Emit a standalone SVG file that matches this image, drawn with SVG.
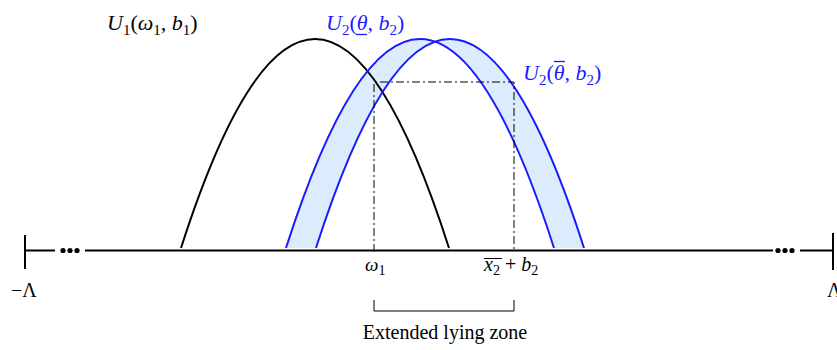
<svg xmlns="http://www.w3.org/2000/svg" width="837" height="350" viewBox="0 0 837 350">
<style>
.t{font-family:"Liberation Serif","DejaVu Serif",serif;font-size:22px;fill:#000}
.s{font-size:15px}
.i{font-style:italic}
.b{fill:#1a1aff}
.ax{stroke:#000;stroke-width:2;fill:none}
.dd{stroke:#000;stroke-width:1;fill:none;stroke-dasharray:8 3 2 3}
</style>
<rect width="837" height="350" fill="#fff"/>
<g id="band">
<path d="M286,248 Q420,-170 554,248 Z M316,248 Q450,-170 584,248 Z" fill="#dcecfc" fill-rule="evenodd" stroke="none"/>
</g>
<g id="axis">
<line class="ax" x1="25" y1="235" x2="25" y2="269"/>
<line class="ax" x1="25" y1="250.5" x2="55" y2="250.5"/>
<line class="ax" x1="85" y1="250.5" x2="773" y2="250.5"/>
<line class="ax" x1="800" y1="250.5" x2="833" y2="250.5"/>
<line class="ax" x1="833" y1="233" x2="833" y2="270"/>
<circle cx="63" cy="250.5" r="2.6"/><circle cx="70" cy="250.5" r="2.6"/><circle cx="77" cy="250.5" r="2.6"/>
<circle cx="778" cy="250.5" r="2.6"/><circle cx="785" cy="250.5" r="2.6"/><circle cx="792" cy="250.5" r="2.6"/>
</g>
<g id="U1">
<path d="M181,248 Q315,-170 449,248" fill="none" stroke="#000" stroke-width="2"/>
</g>
<g id="U2lower">
<path d="M286,248 Q420,-170 554,248" fill="none" stroke="#1a1aff" stroke-width="2"/>
</g>
<g id="U2upper">
<path d="M316,248 Q450,-170 584,248" fill="none" stroke="#1a1aff" stroke-width="2"/>
</g>
<g id="connectors">
<path class="dd" d="M374,252 V82 H514 V252"/>
<path d="M374,300 V311 H514 V300" fill="none" stroke="#000" stroke-width="1"/>
</g>
<g id="labels">
<text class="t" x="107" y="30"><tspan class="i">U</tspan><tspan class="s" dy="5">1</tspan><tspan dy="-5">(</tspan><tspan class="i">ω</tspan><tspan class="s" dy="5">1</tspan><tspan dy="-5">, </tspan><tspan class="i">b</tspan><tspan class="s" dy="5">1</tspan><tspan dy="-5">)</tspan></text>
<text class="t b" x="326" y="30"><tspan class="i">U</tspan><tspan class="s" dy="5">2</tspan><tspan dy="-5">(</tspan><tspan class="i">θ</tspan><tspan>, </tspan><tspan class="i">b</tspan><tspan class="s" dy="5">2</tspan><tspan dy="-5">)</tspan></text>
<line x1="356" y1="34.5" x2="367" y2="34.5" stroke="#1a1aff" stroke-width="1.3"/>
<text class="t b" x="523" y="80"><tspan class="i">U</tspan><tspan class="s" dy="5">2</tspan><tspan dy="-5">(</tspan><tspan class="i">θ</tspan><tspan>, </tspan><tspan class="i">b</tspan><tspan class="s" dy="5">2</tspan><tspan dy="-5">)</tspan></text>
<line x1="554" y1="61.5" x2="565" y2="61.5" stroke="#1a1aff" stroke-width="1.3"/>
<text class="t" x="365" y="271" style="font-size:19px"><tspan class="i">ω</tspan><tspan class="s" style="font-size:14px" dy="4">1</tspan></text>
<line x1="484" y1="258.5" x2="502" y2="258.5" stroke="#000" stroke-width="1"/>
<text class="t" x="484" y="271" style="font-size:20px"><tspan class="i">x</tspan><tspan style="font-size:14px" dy="4">2</tspan><tspan dy="-4"> + </tspan><tspan class="i">b</tspan><tspan style="font-size:14px" dy="4">2</tspan></text>
<text class="t" x="11" y="297" style="font-size:20px">−Λ</text>
<text class="t" x="827" y="297" style="font-size:20px">Λ</text>
<text class="t" x="445" y="339" text-anchor="middle" style="font-size:20px">Extended lying zone</text>
</g>
</svg>
